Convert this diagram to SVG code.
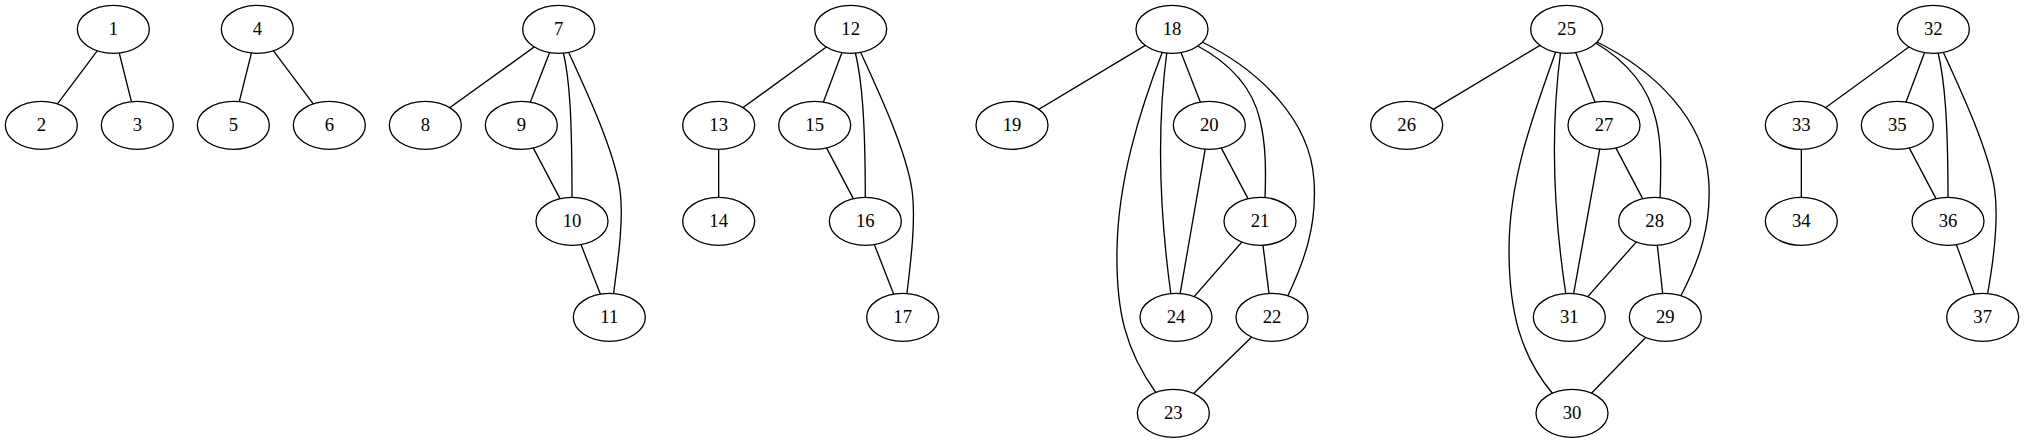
<svg xmlns="http://www.w3.org/2000/svg" width="2025" height="443" viewBox="0 0 2025 443">
<style>
.edges line, .edges path { stroke: #000; stroke-width: 1.33; fill: none; }
.node ellipse { fill: #fff; stroke: #000; stroke-width: 1.33; }
.node text { font-family: "Liberation Serif", "Times New Roman", serif; font-size: 18.67px; text-anchor: middle; fill: #000; }
</style>
<rect width="2025" height="443" fill="#fff"/>
<g id="edges" class="edges">
<line x1="113.33" y1="29.33" x2="41.33" y2="125.33"/>
<line x1="113.33" y1="29.33" x2="137.33" y2="125.33"/>
<line x1="257.33" y1="29.33" x2="233.33" y2="125.33"/>
<line x1="257.33" y1="29.33" x2="329.33" y2="125.33"/>
<line x1="558.67" y1="29.33" x2="425.33" y2="125.33"/>
<line x1="558.67" y1="29.33" x2="521.33" y2="125.33"/>
<line x1="521.33" y1="125.33" x2="572" y2="221.33"/>
<line x1="572" y1="221.33" x2="609.33" y2="317.33"/>
<path d="M563,51 C570,80 572,120 572,199"/>
<path d="M568,51 C586,90 614,150 620,190 C624,220 618,260 613.3,295.5"/>
<line x1="850.67" y1="29.33" x2="718.67" y2="125.33"/>
<line x1="850.67" y1="29.33" x2="814.67" y2="125.33"/>
<line x1="718.67" y1="125.33" x2="718.67" y2="221.33"/>
<line x1="814.67" y1="125.33" x2="865.33" y2="221.33"/>
<line x1="865.33" y1="221.33" x2="902.67" y2="317.33"/>
<path d="M855,51 C862,80 865.3,120 865.3,199"/>
<path d="M860,51 C878,90 906,150 912,190 C916,220 911,260 906.7,295.5"/>
<line x1="1172" y1="29.33" x2="1012" y2="125.33"/>
<line x1="1172" y1="29.33" x2="1209.33" y2="125.33"/>
<line x1="1209.33" y1="125.33" x2="1260" y2="221.33"/>
<line x1="1209.33" y1="125.33" x2="1176" y2="317.33"/>
<line x1="1260" y1="221.33" x2="1176" y2="317.33"/>
<line x1="1260" y1="221.33" x2="1272" y2="317.33"/>
<line x1="1272" y1="317.33" x2="1173.33" y2="413.33"/>
<path d="M1162.7,51 C1140,110 1118,180 1117,250 C1116,310 1125,350 1156.5,393.5"/>
<path d="M1167,51 C1155,140 1162,230 1171,295"/>
<path d="M1196,45 C1228,62 1252,85 1260,120 C1266,145 1266,170 1265,199"/>
<path d="M1200,41 C1260,70 1310,120 1314,180 C1317,225 1305,260 1287.5,296.5"/>
<line x1="1566.67" y1="29.33" x2="1406.67" y2="125.33"/>
<line x1="1566.67" y1="29.33" x2="1604" y2="125.33"/>
<line x1="1604" y1="125.33" x2="1654.67" y2="221.33"/>
<line x1="1604" y1="125.33" x2="1569.33" y2="317.33"/>
<line x1="1654.67" y1="221.33" x2="1569.33" y2="317.33"/>
<line x1="1654.67" y1="221.33" x2="1665.33" y2="317.33"/>
<line x1="1665.33" y1="317.33" x2="1572" y2="413.33"/>
<path d="M1556,51 C1533,115 1509,180 1509,250 C1509,310 1520,355 1553,394"/>
<path d="M1560.7,51 C1549,140 1556,230 1566,295"/>
<path d="M1594,42 C1625,60 1648,85 1656,120 C1662,145 1661,170 1660,199"/>
<path d="M1595,41 C1654.7,70 1704.7,120 1708.7,180 C1711.7,225 1699.7,260 1680.5,296.5"/>
<line x1="1933.33" y1="29.33" x2="1801.33" y2="125.33"/>
<line x1="1933.33" y1="29.33" x2="1897.33" y2="125.33"/>
<line x1="1801.33" y1="125.33" x2="1801.33" y2="221.33"/>
<line x1="1897.33" y1="125.33" x2="1948" y2="221.33"/>
<line x1="1948" y1="221.33" x2="1982.67" y2="317.33"/>
<path d="M1937.7,51 C1944.7,80 1948,120 1948,199"/>
<path d="M1942.7,51 C1960.7,90 1988.7,150 1994.7,190 C1998.7,220 1993.7,260 1987.3,295.5"/>
</g>
<g id="node1" class="node"><ellipse cx="113.33" cy="29.33" rx="36" ry="24"/><text x="113.33" y="34.9">1</text></g>
<g id="node2" class="node"><ellipse cx="41.33" cy="125.33" rx="36" ry="24"/><text x="41.33" y="130.9">2</text></g>
<g id="node3" class="node"><ellipse cx="137.33" cy="125.33" rx="36" ry="24"/><text x="137.33" y="130.9">3</text></g>
<g id="node4" class="node"><ellipse cx="257.33" cy="29.33" rx="36" ry="24"/><text x="257.33" y="34.9">4</text></g>
<g id="node5" class="node"><ellipse cx="233.33" cy="125.33" rx="36" ry="24"/><text x="233.33" y="130.9">5</text></g>
<g id="node6" class="node"><ellipse cx="329.33" cy="125.33" rx="36" ry="24"/><text x="329.33" y="130.9">6</text></g>
<g id="node7" class="node"><ellipse cx="558.67" cy="29.33" rx="36" ry="24"/><text x="558.67" y="34.9">7</text></g>
<g id="node8" class="node"><ellipse cx="425.33" cy="125.33" rx="36" ry="24"/><text x="425.33" y="130.9">8</text></g>
<g id="node9" class="node"><ellipse cx="521.33" cy="125.33" rx="36" ry="24"/><text x="521.33" y="130.9">9</text></g>
<g id="node10" class="node"><ellipse cx="572" cy="221.33" rx="36" ry="24"/><text x="572" y="226.9">10</text></g>
<g id="node11" class="node"><ellipse cx="609.33" cy="317.33" rx="36" ry="24"/><text x="609.33" y="322.9">11</text></g>
<g id="node12" class="node"><ellipse cx="850.67" cy="29.33" rx="36" ry="24"/><text x="850.67" y="34.9">12</text></g>
<g id="node13" class="node"><ellipse cx="718.67" cy="125.33" rx="36" ry="24"/><text x="718.67" y="130.9">13</text></g>
<g id="node14" class="node"><ellipse cx="718.67" cy="221.33" rx="36" ry="24"/><text x="718.67" y="226.9">14</text></g>
<g id="node15" class="node"><ellipse cx="814.67" cy="125.33" rx="36" ry="24"/><text x="814.67" y="130.9">15</text></g>
<g id="node16" class="node"><ellipse cx="865.33" cy="221.33" rx="36" ry="24"/><text x="865.33" y="226.9">16</text></g>
<g id="node17" class="node"><ellipse cx="902.67" cy="317.33" rx="36" ry="24"/><text x="902.67" y="322.9">17</text></g>
<g id="node18" class="node"><ellipse cx="1172" cy="29.33" rx="36" ry="24"/><text x="1172" y="34.9">18</text></g>
<g id="node19" class="node"><ellipse cx="1012" cy="125.33" rx="36" ry="24"/><text x="1012" y="130.9">19</text></g>
<g id="node20" class="node"><ellipse cx="1209.33" cy="125.33" rx="36" ry="24"/><text x="1209.33" y="130.9">20</text></g>
<g id="node21" class="node"><ellipse cx="1260" cy="221.33" rx="36" ry="24"/><text x="1260" y="226.9">21</text></g>
<g id="node22" class="node"><ellipse cx="1272" cy="317.33" rx="36" ry="24"/><text x="1272" y="322.9">22</text></g>
<g id="node23" class="node"><ellipse cx="1173.33" cy="413.33" rx="36" ry="24"/><text x="1173.33" y="418.9">23</text></g>
<g id="node24" class="node"><ellipse cx="1176" cy="317.33" rx="36" ry="24"/><text x="1176" y="322.9">24</text></g>
<g id="node25" class="node"><ellipse cx="1566.67" cy="29.33" rx="36" ry="24"/><text x="1566.67" y="34.9">25</text></g>
<g id="node26" class="node"><ellipse cx="1406.67" cy="125.33" rx="36" ry="24"/><text x="1406.67" y="130.9">26</text></g>
<g id="node27" class="node"><ellipse cx="1604" cy="125.33" rx="36" ry="24"/><text x="1604" y="130.9">27</text></g>
<g id="node28" class="node"><ellipse cx="1654.67" cy="221.33" rx="36" ry="24"/><text x="1654.67" y="226.9">28</text></g>
<g id="node29" class="node"><ellipse cx="1665.33" cy="317.33" rx="36" ry="24"/><text x="1665.33" y="322.9">29</text></g>
<g id="node30" class="node"><ellipse cx="1572" cy="413.33" rx="36" ry="24"/><text x="1572" y="418.9">30</text></g>
<g id="node31" class="node"><ellipse cx="1569.33" cy="317.33" rx="36" ry="24"/><text x="1569.33" y="322.9">31</text></g>
<g id="node32" class="node"><ellipse cx="1933.33" cy="29.33" rx="36" ry="24"/><text x="1933.33" y="34.9">32</text></g>
<g id="node33" class="node"><ellipse cx="1801.33" cy="125.33" rx="36" ry="24"/><text x="1801.33" y="130.9">33</text></g>
<g id="node34" class="node"><ellipse cx="1801.33" cy="221.33" rx="36" ry="24"/><text x="1801.33" y="226.9">34</text></g>
<g id="node35" class="node"><ellipse cx="1897.33" cy="125.33" rx="36" ry="24"/><text x="1897.33" y="130.9">35</text></g>
<g id="node36" class="node"><ellipse cx="1948" cy="221.33" rx="36" ry="24"/><text x="1948" y="226.9">36</text></g>
<g id="node37" class="node"><ellipse cx="1982.67" cy="317.33" rx="36" ry="24"/><text x="1982.67" y="322.9">37</text></g>
</svg>
